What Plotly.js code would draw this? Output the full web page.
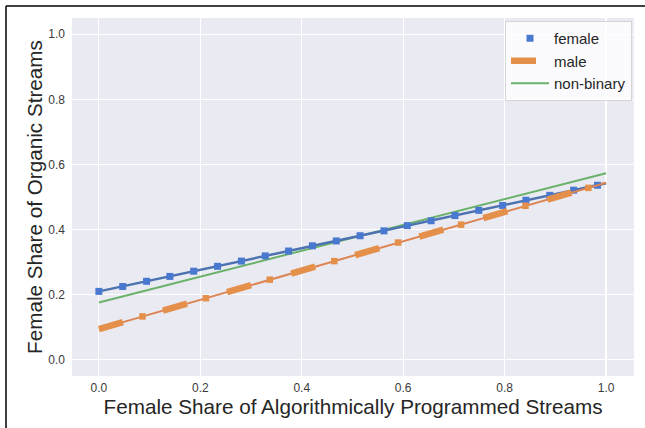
<!DOCTYPE html>
<html>
<head>
<meta charset="utf-8">
<script src="https://cdn.plot.ly/plotly-3.0.1.min.js"></script>
<style>
  html, body { margin: 0; padding: 0; background: #ffffff; }
  #chart { width: 645px; height: 428px; }
</style>
</head>
<body>
<div id="chart"></div>
<script>
// ---- data ----
const lineX = [0, 1];

const femaleX = [0, 0.047, 0.094, 0.140, 0.187, 0.234, 0.281, 0.328, 0.374, 0.421, 0.468,
                 0.515, 0.562, 0.608, 0.655, 0.702, 0.749, 0.796, 0.842, 0.889, 0.936, 0.983];
const femaleY = [0.210, 0.225, 0.241, 0.256, 0.272, 0.287, 0.303, 0.319, 0.334, 0.350, 0.365,
                 0.381, 0.396, 0.412, 0.427, 0.443, 0.459, 0.474, 0.490, 0.505, 0.521, 0.536];
const femaleLineY = [0.210, 0.542];

const maleX = [0.086, 0.211, 0.337, 0.464, 0.590, 0.714, 0.841, 0.965];
const maleY = [0.133, 0.189, 0.246, 0.303, 0.360, 0.415, 0.473, 0.528];
const maleLineY = [0.094, 0.544];

const nonBinaryLineY = [0.176, 0.573];

const tickVals = [0, 0.2, 0.4, 0.6, 0.8, 1.0];
const tickText = ["0.0", "0.2", "0.4", "0.6", "0.8", "1.0"];

const xTitle = "Female Share of Algorithmically Programmed Streams";
const yTitle = "Female Share of Organic Streams";

// ---- traces ----
const traces = [
  { x: lineX, y: nonBinaryLineY, mode: "lines", name: "non-binary",
    line: { color: "#6AB26A", width: 2 }, legendrank: 3 },
  { x: lineX, y: femaleLineY, mode: "lines", showlegend: false, hoverinfo: "skip",
    line: { color: "#4C72B0", width: 2.5 } },
  { x: femaleX, y: femaleY, mode: "markers", name: "female",
    marker: { symbol: "square", size: 7, color: "#4878D0" }, legendrank: 1 },
  { x: lineX, y: maleLineY, mode: "lines", showlegend: false, hoverinfo: "skip",
    line: { color: "#DD8452", width: 2 } },
  { x: lineX, y: maleLineY, mode: "lines", name: "male",
    line: { color: "#E5904A", width: 6.5, dash: "25px,41.7px" }, legendrank: 2 },
  { x: maleX, y: maleY, mode: "markers", showlegend: false, hoverinfo: "skip",
    marker: { symbol: "square", size: 6.5, color: "#E5904A" } }
];

const L = 72, R = 11, T = 18, B = 52, W = 645, H = 428;
const pw = W - L - R, ph = H - T - B;
const px = v => (v - L) / pw;
const py = v => (H - B - v) / ph;

const layout = {
  width: W, height: H,
  margin: { l: L, r: R, t: T, b: B, pad: 0 },
  paper_bgcolor: "#ffffff",
  plot_bgcolor: "#EAEAF2",
  font: { family: "Liberation Sans, Arial, sans-serif", color: "#262626" },
  showlegend: true,
  xaxis: {
    range: [-0.053, 1.055],
    tickvals: tickVals, ticktext: tickText,
    showgrid: true, gridcolor: "#ffffff", gridwidth: 1.2,
    zeroline: false, showline: false, ticks: "",
    ticklabelstandoff: 3,
    tickfont: { size: 12, color: "#3a3a3a" },
    title: { text: xTitle, font: { size: 20.7, color: "#262626" }, standoff: 3 }
  },
  yaxis: {
    range: [-0.05, 1.05],
    tickvals: tickVals, ticktext: tickText,
    showgrid: true, gridcolor: "#ffffff", gridwidth: 1.2,
    zeroline: false, showline: false, ticks: "",
    ticklabelstandoff: 6,
    tickfont: { size: 12, color: "#3a3a3a" },
    title: { text: yTitle, font: { size: 20.7, color: "#262626" }, standoff: 0 }
  },
  legend: {
    x: px(505), y: py(21), xanchor: "left", yanchor: "top",
    bgcolor: "rgba(255,255,255,0.8)",
    bordercolor: "#D5D5D5", borderwidth: 1,
    font: { size: 15, color: "#262626" },
    itemwidth: 38,
    traceorder: "normal"
  },
  shapes: [
    { type: "line", xref: "paper", yref: "paper",
      x0: px(6), y0: py(6), x1: px(660), y1: py(6),
      line: { color: "#000000", width: 1.5 } },
    { type: "line", xref: "paper", yref: "paper",
      x0: px(6), y0: py(6), x1: px(6), y1: py(440),
      line: { color: "#000000", width: 1.5 } }
  ]
};

Plotly.newPlot("chart", traces, layout, { displayModeBar: false, staticPlot: true });
</script>
</body>
</html>
